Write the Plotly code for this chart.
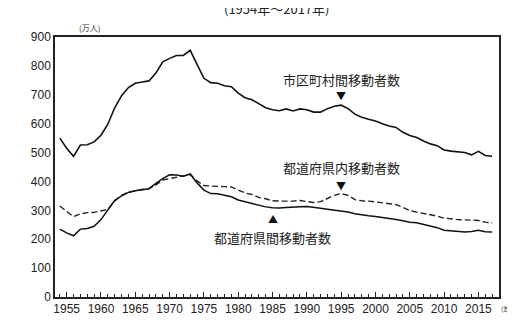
import plotly.graph_objects as go

years = list(range(1954, 2018))

# 市区町村間移動者数 (万人)
municipal = [550, 515, 487, 526, 527, 537, 560, 598, 655, 697,
             725, 740, 744, 748, 775, 814, 826, 836, 836, 854,
             805, 757, 742, 740, 731, 728, 706, 690, 683, 668,
             655, 648, 645, 651, 644, 651, 648, 640, 640, 652,
             660, 664, 652, 633, 622, 615, 609, 600, 592, 587,
             570, 559, 552, 540, 530, 524, 509, 505, 502, 500,
             492, 504, 490, 487]

# 都道府県内移動者数 (万人)
intra_pref = [315, 295, 278, 288, 292, 293, 297, 303, 332, 352,
              363, 368, 372, 375, 388, 405, 410, 414, 418, 424,
              402, 386, 384, 382, 382, 381, 370, 360, 355, 345,
              340, 333, 332, 331, 332, 334, 330, 327, 330, 340,
              352, 358, 352, 337, 333, 332, 329, 327, 324, 320,
              310, 299, 294, 290, 285, 280, 273, 270, 268, 267,
              266, 265, 259, 257]

# 都道府県間移動者数 (万人)
inter_pref = [235, 222, 212, 235, 237, 245, 268, 300, 335, 350,
              362, 368, 372, 375, 393, 410, 423, 422, 418, 426,
              395, 370, 358, 357, 352, 347, 336, 330, 326, 318,
              312, 309, 308, 310, 312, 312, 313, 311, 307, 304,
              301, 299, 294, 288, 284, 281, 279, 276, 272, 268,
              264, 259, 257, 252, 246, 240, 231, 229, 228, 225,
              227, 231, 226, 225]

x_ticks = list(range(1955, 2016, 5))
y_ticks = list(range(0, 901, 100))

CJK = "Noto Sans CJK JP"
NUM = "Liberation Sans"

fig = go.Figure()
fig.add_trace(go.Scatter(x=years, y=municipal, mode="lines",
                         line=dict(color="#111", width=1.6), name="市区町村間移動者数"))
fig.add_trace(go.Scatter(x=years, y=intra_pref, mode="lines",
                         line=dict(color="#222", width=1.4, dash="6px,3px"), name="都道府県内移動者数"))
fig.add_trace(go.Scatter(x=years, y=inter_pref, mode="lines",
                         line=dict(color="#111", width=1.5), name="都道府県間移動者数"))

annos = [
    dict(x=1995, y=752, text="市区町村間移動者数", font=dict(family=CJK, size=13, color="#222")),
    dict(x=1995, y=697, text="▼", font=dict(family=CJK, size=10, color="#111")),
    dict(x=1995, y=448, text="都道府県内移動者数", font=dict(family=CJK, size=13, color="#222")),
    dict(x=1995, y=386, text="▼", font=dict(family=CJK, size=10, color="#111")),
    dict(x=1985, y=207, text="都道府県間移動者数", font=dict(family=CJK, size=13, color="#222")),
    dict(x=1985, y=273, text="▲", font=dict(family=CJK, size=10, color="#111")),
]
for a in annos:
    fig.add_annotation(xref="x", yref="y", showarrow=False, **a)

fig.add_annotation(xref="paper", yref="paper", x=0.05, y=1.0, yanchor="bottom", yshift=2,
                   text="(万人)", showarrow=False, font=dict(family=CJK, size=8, color="#333"))
fig.add_annotation(xref="paper", yref="paper", x=1.0, y=0, xanchor="left", yanchor="top",
                   xshift=1, yshift=-6, borderpad=0, text="(年)", showarrow=False,
                   font=dict(family=CJK, size=7, color="#333"))
fig.add_annotation(xref="paper", yref="paper", x=0.5, y=1.0, yanchor="bottom", yshift=17,
                   text="(1954年～2017年)", showarrow=False,
                   font=dict(family=CJK, size=13, color="#222"))

fig.update_layout(
    width=515, height=320,
    margin=dict(l=47, r=24, t=29, b=20),
    paper_bgcolor="white", plot_bgcolor="white",
    showlegend=False,
    font=dict(family=NUM, size=12, color="#222"),
    xaxis=dict(range=[1953.3, 2018.0], tickvals=x_ticks, ticks="inside", ticklen=5,
               tickcolor="#222", tickwidth=1, showgrid=False, zeroline=False,
               showline=True, linecolor="#222", linewidth=1.5, mirror=True,
               minor=dict(dtick=1, tick0=1954, ticks="inside", ticklen=3, tickcolor="#222"),
               tickfont=dict(family=NUM, size=12, color="#222")),
    yaxis=dict(range=[0, 900], tickvals=y_ticks, ticks="", showgrid=False, zeroline=False,
               showline=True, linecolor="#222", linewidth=1.5, mirror=True,
               tickfont=dict(family=NUM, size=12, color="#222")),
)

fig.write_html("out.html")
